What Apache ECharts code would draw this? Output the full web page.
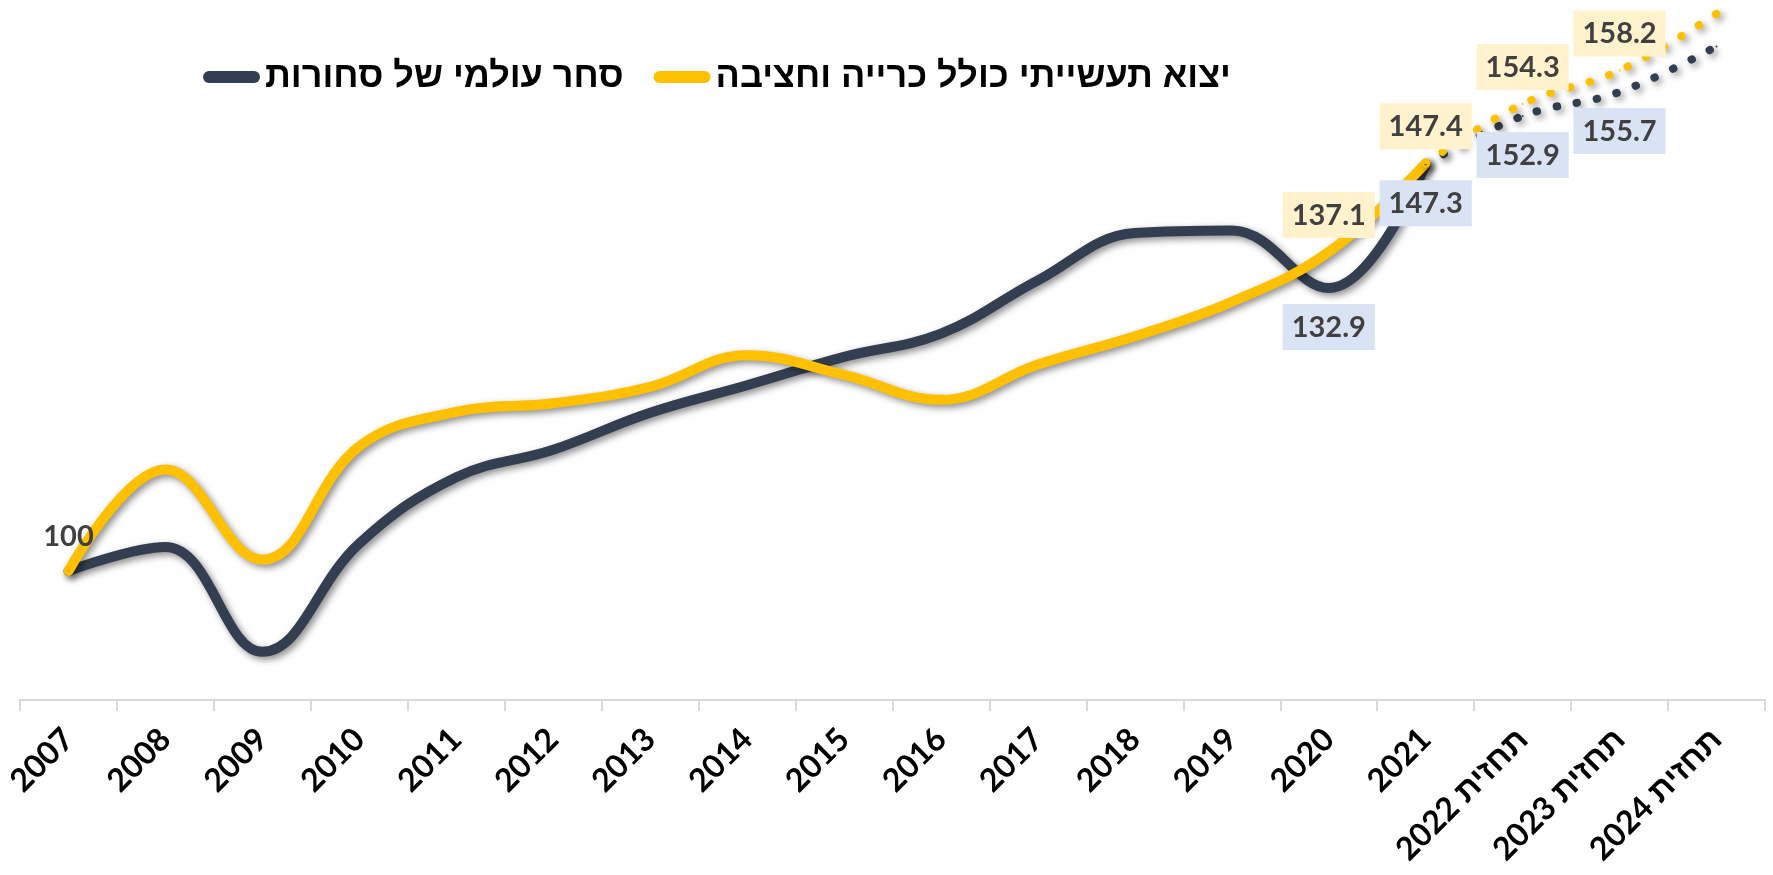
<!DOCTYPE html>
<html lang="he">
<head>
<meta charset="utf-8">
<title>סחר עולמי ויצוא תעשייתי</title>
<script src="https://cdn.jsdelivr.net/npm/echarts@6/dist/echarts.min.js"></script>
<style>
    html, body { margin: 0; padding: 0; background: #ffffff; }
    #chart { width: 1773px; height: 875px; }
</style>
</head>
<body>
<div id="chart"></div>
<script>
// Categories (years, last three are forecasts)
const years = ['2007', '2008', '2009', '2010', '2011', '2012', '2013', '2014', '2015',
    '2016', '2017', '2018', '2019', '2020', '2021', 'תחזית 2022', 'תחזית 2023', 'תחזית 2024'];

// World trade in goods (index, 2007 = 100)
const tradeValues = [100, 102.8, 90.6, 103.2, 110.9, 114.1, 118.4, 121.6, 124.9,
    127.6, 133.8, 139.3, 139.6, 132.9, 147.3, 152.9, 155.7, 161.0];

// Industrial exports incl. mining and quarrying (index, 2007 = 100)
const exportValues = [100, 111.8, 101.3, 114.5, 118.5, 119.5, 121.4, 125.1, 122.8,
    119.9, 124.0, 127.3, 131.3, 137.1, 147.4, 154.3, 158.2, 164.8];

// Series names as in the legend
const tradeName = 'סחר עולמי של סחורות';
const exportName = 'יצוא תעשייתי כולל כרייה וחציבה';

// Last actual year, after it the line turns dotted
const lastActual = 14;

// Which points carry a value label
const tradeLabeled = [13, 14, 15, 16];
const exportLabeled = [13, 14, 15, 16];
const plainLabeled = [0];

const textColor = '#404040';
const tradeColor = '#333f50';
const exportColor = '#ffc000';
const fontStack = 'Lato, "Liberation Sans", sans-serif';

const labelBase = {
    show: true,
    color: textColor,
    fontFamily: fontStack,
    fontWeight: 'bold',
    fontSize: 29,
    lineHeight: 31,
    padding: [8, 9, 7, 9],
    formatter: (p) => String(p.value)
};

const shadow = {
    shadowColor: 'rgba(0, 0, 0, 0.45)',
    shadowBlur: 7,
    shadowOffsetX: 3,
    shadowOffsetY: 3
};

const tradeLabel = Object.assign({}, labelBase, {
    position: 'bottom', distance: 15, backgroundColor: '#dae3f3'
});
const exportLabel = Object.assign({}, labelBase, {
    position: 'top', distance: 13, backgroundColor: '#fff2cc'
});
const plainLabel = Object.assign({}, labelBase, { position: 'top', distance: 11 });

/**
 * Builds the data of one part of a series (solid or dotted)
 */
function buildData(values, from, to, labeled, labelStyle, plain) {
    return values.map((value, i) => {
        if (i < from || i > to) {
            return null;
        }
        const item = { value: value, label: { show: false } };
        if (labeled.indexOf(i) >= 0) {
            item.label = labelStyle;
        } else if (plain && plain.indexOf(i) >= 0) {
            item.label = plainLabel;
        }
        return item;
    });
}

function lineSeries(name, color, data, dotted) {
    return {
        name: name,
        type: 'line',
        data: data,
        smooth: 0.4,
        showSymbol: true,
        symbol: 'circle',
        symbolSize: 2,
        itemStyle: { color: color },
        color: color,
        silent: true,
        lineStyle: Object.assign({
            color: color,
            width: dotted ? 8 : 10,
            cap: 'round',
            join: 'round',
            type: dotted ? [0.5, 20] : 'solid'
        }, shadow),
        labelLayout: { hideOverlap: false }
    };
}

const chart = echarts.init(document.getElementById('chart'));

chart.setOption({
    animation: false,
    grid: { left: 20, right: 8, top: 12, bottom: 175 },
    legend: {
        data: [tradeName, exportName],
        left: 198,
        top: 54,
        itemGap: 30,
        itemWidth: 57,
        itemHeight: 13,
        icon: 'path://M6,0 H51 A6,6 0 0 1 51,12 H6 A6,6 0 0 1 6,0 Z',
        textStyle: {
            color: '#000000',
            fontFamily: '"Liberation Sans", sans-serif',
            fontWeight: 'bold',
            fontSize: 36
        }
    },
    xAxis: {
        type: 'category',
        data: years,
        boundaryGap: true,
        axisLine: { lineStyle: { color: '#d9d9d9', width: 2 } },
        axisTick: { show: true, length: 11, lineStyle: { color: '#d9d9d9', width: 2 } },
        axisLabel: {
            rotate: 45,
            margin: 34,
            interval: 0,
            color: '#000000',
            fontFamily: fontStack,
            fontWeight: 'bold',
            fontSize: 32
        }
    },
    yAxis: {
        type: 'value',
        min: 85,
        max: 165,
        show: false,
        splitLine: { show: false }
    },
    series: [
        lineSeries(tradeName, tradeColor,
            buildData(tradeValues, 0, lastActual, tradeLabeled, tradeLabel), false),
        lineSeries(tradeName + ' תחזית', tradeColor,
            buildData(tradeValues, lastActual, years.length - 1,
                tradeLabeled.filter((i) => i > lastActual), tradeLabel), true),
        lineSeries(exportName, exportColor,
            buildData(exportValues, 0, lastActual, exportLabeled, exportLabel, plainLabeled), false),
        lineSeries(exportName + ' תחזית', exportColor,
            buildData(exportValues, lastActual, years.length - 1,
                exportLabeled.filter((i) => i > lastActual), exportLabel), true)
    ]
});
</script>
</body>
</html>
